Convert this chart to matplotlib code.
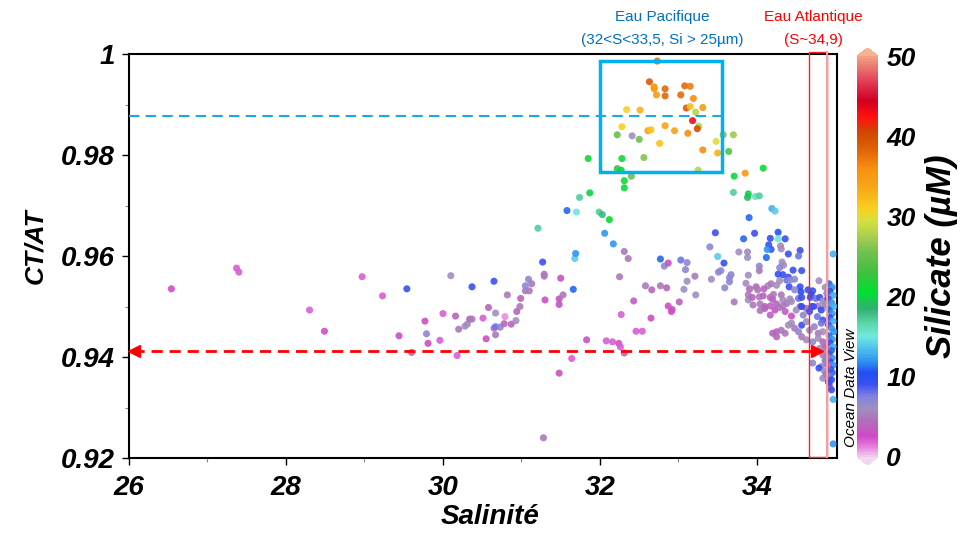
"""
plot.py
CT/AT ratio versus salinity, coloured by silicate (Ocean Data View style).
"""

import matplotlib
matplotlib.use("Agg")
import matplotlib.pyplot as plt
from matplotlib.colors import LinearSegmentedColormap, Normalize
from matplotlib.patches import Rectangle

# ---- data (salinity, CT/AT, silicate in uM) ----
# sparse low-salinity branch
sal_low = [26.54, 27.37, 27.40, 28.30, 28.49, 28.97, 29.23, 29.54, 29.44, 29.60,
           29.77, 29.79, 29.81, 29.96, 30.00, 30.10, 30.16, 30.18, 30.20, 30.28,
           30.31, 30.34, 30.37, 30.37, 30.51, 30.55, 30.58, 30.65, 30.65, 30.67,
           30.73, 30.67, 30.67, 30.78, 30.79, 30.82, 30.87, 30.93, 30.94, 30.98,
           30.99, 31.05, 31.05, 31.09, 31.10, 31.13, 31.21, 31.27, 31.29, 31.29,
           31.30, 31.28, 31.48, 31.48, 31.48, 31.50, 31.53, 31.58, 31.64, 31.66,
           31.68, 31.69, 31.70, 31.74, 31.83, 31.87, 31.99]
ratio_low = [0.9535, 0.9576, 0.9568, 0.9493, 0.9451, 0.9559, 0.9521, 0.9535, 0.9442, 0.9409,
             0.9471, 0.9446, 0.9427, 0.9433, 0.9486, 0.9561, 0.9481, 0.9403, 0.9455, 0.9461,
             0.9465, 0.9475, 0.9475, 0.9539, 0.9477, 0.9436, 0.9498, 0.9550, 0.9457, 0.9460,
             0.9459, 0.9487, 0.9444, 0.9466, 0.9480, 0.9523, 0.9465, 0.9472, 0.9490, 0.9500,
             0.9516, 0.9531, 0.9541, 0.9554, 0.9531, 0.9545, 0.9655, 0.9588, 0.9564, 0.9560,
             0.9513, 0.9240, 0.9368, 0.9515, 0.9504, 0.9556, 0.9523, 0.9690, 0.9397, 0.9534,
             0.9595, 0.9605, 0.9687, 0.9716, 0.9434, 0.9725, 0.9687]
si_low = [2.5, 2, 2, 2, 2.5, 2, 2, 9, 3, 4,
          3, 7, 3, 2, 2, 6, 4, 2, 5, 6,
          6, 4, 5, 9, 2, 3, 4, 9, 5, 8,
          7, 6, 5, 4, 1, 5, 4, 6, 4, 5,
          4, 5, 7, 7, 5, 5, 17, 9, 5, 5,
          3, 5, 3, 3, 3, 3, 5, 11, 2, 11,
          14, 12, 15, 17, 3, 20, 17]

# Pacific water peak and its flanks
sal_pac = [32.73, 32.63, 32.69, 32.69, 32.72, 32.83, 32.83, 33.08, 33.15, 33.03,
           33.19, 33.10, 33.15, 33.31, 33.22, 32.34, 32.51, 32.28, 33.18, 33.26,
           33.24, 32.83, 32.61, 32.65, 32.95, 33.12, 32.22, 32.41, 32.50, 33.57,
           33.70, 33.48, 32.76, 33.31, 33.50, 33.64, 31.85, 32.28, 32.56, 32.22,
           32.27, 33.25, 32.31, 32.40, 33.71, 32.31, 32.03, 32.12, 33.70, 32.06,
           32.17, 32.31, 33.47, 33.40, 33.77, 33.85, 34.08]
ratio_pac = [0.9986, 0.9945, 0.9935, 0.9931, 0.9919, 0.9931, 0.9917, 0.9937, 0.9936, 0.9919,
             0.9912, 0.9893, 0.9896, 0.9894, 0.9885, 0.9890, 0.9889, 0.9856, 0.9868, 0.9857,
             0.9852, 0.9858, 0.9848, 0.9850, 0.9848, 0.9843, 0.9840, 0.9838, 0.9831, 0.9840,
             0.9840, 0.9827, 0.9823, 0.9810, 0.9804, 0.9807, 0.9793, 0.9793, 0.9795, 0.9773,
             0.9770, 0.9770, 0.9749, 0.9758, 0.9758, 0.9735, 0.9682, 0.9672, 0.9726, 0.9645,
             0.9624, 0.9609, 0.9646, 0.9618, 0.9608, 0.9764, 0.9774]
si_pac = [38, 39, 35, 35, 35, 38, 38, 38, 37, 38,
          36, 39, 32, 35, 28, 31, 33, 31, 43, 28,
          40, 34, 34, 32, 34, 36, 25, 6, 25, 26,
          27, 30, 32, 36, 33, 24, 21, 21, 26, 23,
          21, 28, 21, 25, 21, 21, 18, 21, 17, 12,
          12, 5, 9, 7, 6, 35, 21]

# low-silicate branch between S=32 and S=34
sal_mid = [32.36, 32.25, 32.43, 32.27, 32.46, 32.54, 32.65, 32.08, 32.16, 32.24,
           32.26, 32.31, 32.58, 32.66, 32.77, 32.85, 32.77, 32.82, 32.87, 33.03,
           33.11, 33.09, 33.11, 33.07, 33.21, 33.22, 33.01, 32.87, 32.92, 32.91,
           33.50, 33.58, 33.42, 33.51, 33.54, 33.65, 33.67, 33.65, 33.59, 33.71,
           33.83, 33.88, 33.89, 33.86, 33.90, 33.89, 33.90]
ratio_mid = [0.9595, 0.9559, 0.9511, 0.9484, 0.9451, 0.9451, 0.9477, 0.9432, 0.9430, 0.9427,
             0.9420, 0.9408, 0.9541, 0.9533, 0.9541, 0.9537, 0.9594, 0.9580, 0.9586, 0.9592,
             0.9587, 0.9573, 0.9550, 0.9534, 0.9560, 0.9523, 0.9509, 0.9501, 0.9494, 0.9490,
             0.9599, 0.9586, 0.9554, 0.9568, 0.9571, 0.9557, 0.9563, 0.9549, 0.9537, 0.9509,
             0.9634, 0.9597, 0.9562, 0.9546, 0.9534, 0.9513, 0.9676]
si_mid = [5, 5, 4, 2, 2, 2, 3, 2, 2, 3,
          2, 4, 5, 4, 5, 4, 11, 7, 3, 8,
          7, 7, 6, 6, 5, 6, 4, 3, 3, 3,
          14, 9, 6, 7, 7, 7, 7, 7, 7, 5,
          11, 6, 6, 6, 1, 6, 11]

# dense cluster towards Atlantic water (S > 33.9)
sal_atl = [33.89, 33.88, 33.98, 34.03, 34.19, 34.23, 33.97, 34.27, 34.27, 34.17,
           34.36, 34.15, 34.18, 34.13, 34.30, 34.31, 33.88, 34.12, 34.40, 34.55,
           34.53, 34.97, 34.32, 34.34, 34.29, 34.03, 34.03, 34.27, 34.33, 34.40,
           34.38, 34.46, 34.57, 34.48, 34.14, 34.18, 34.25, 34.29, 34.41, 34.42,
           34.55, 34.56, 34.48, 34.65, 34.71, 34.69, 34.79, 34.87, 33.91, 33.99,
           34.01, 34.09, 33.89, 33.94, 34.03, 34.08, 34.17, 34.21, 34.20, 34.31,
           34.33, 34.42, 34.53, 34.57, 34.68, 34.75, 34.80, 34.84, 34.89, 34.90,
           33.95, 34.04, 34.10, 34.17, 34.25, 34.33, 34.38, 34.44, 34.55, 34.63,
           34.70, 34.78, 34.87, 34.92,
           34.04, 34.10, 34.17, 34.23, 34.29, 34.36, 34.44, 34.50, 34.57, 34.59,
           34.67, 34.72, 34.77, 34.82, 34.87, 34.84,
           34.20, 34.25, 34.31, 34.36, 34.40, 34.44, 34.48, 34.53, 34.57, 34.63,
           34.67, 34.73, 34.78, 34.82, 34.84,
           34.25, 34.57, 34.63, 34.71, 34.78, 34.84,
           34.80, 34.84, 34.87, 34.71, 34.82, 34.79, 34.89, 34.84, 34.91, 34.93,
           34.95, 34.97, 34.97,
           34.92, 34.96, 34.93, 34.97, 34.91, 34.95, 34.98, 34.92, 34.96, 34.93,
           34.97, 34.91, 34.95, 34.98, 34.92, 34.96, 34.93, 34.97, 34.95, 34.92,
           34.96, 34.93, 34.97, 34.94, 34.96, 34.93, 34.95, 34.92,
           34.86, 34.88, 34.85, 34.89, 34.87, 34.90, 34.86, 34.88]
ratio_atl = [0.9723, 0.9716, 0.9718, 0.9719, 0.9694, 0.9689, 0.9645, 0.9647, 0.9634, 0.9635,
             0.9634, 0.9622, 0.9613, 0.9613, 0.9620, 0.9614, 0.9608, 0.9597, 0.9604, 0.9611,
             0.9600, 0.9604, 0.9588, 0.9582, 0.9577, 0.9580, 0.9571, 0.9564, 0.9563, 0.9558,
             0.9552, 0.9572, 0.9571, 0.9554, 0.9541, 0.9545, 0.9542, 0.9551, 0.9539, 0.9552,
             0.9539, 0.9529, 0.9533, 0.9533, 0.9531, 0.9523, 0.9551, 0.9538, 0.9535, 0.9539,
             0.9533, 0.9535, 0.9523, 0.9518, 0.9519, 0.9521, 0.9518, 0.9524, 0.9514, 0.9523,
             0.9513, 0.9515, 0.9516, 0.9518, 0.9518, 0.9516, 0.9518, 0.9511, 0.9526, 0.9516,
             0.9503, 0.9505, 0.9500, 0.9501, 0.9505, 0.9501, 0.9506, 0.9510, 0.9500, 0.9496,
             0.9500, 0.9501, 0.9503, 0.9496,
             0.9492, 0.9496, 0.9483, 0.9493, 0.9498, 0.9490, 0.9481, 0.9493, 0.9500, 0.9483,
             0.9490, 0.9500, 0.9480, 0.9493, 0.9506, 0.9473,
             0.9447, 0.9450, 0.9453, 0.9447, 0.9463, 0.9467, 0.9457, 0.9450, 0.9463, 0.9470,
             0.9453, 0.9460, 0.9447, 0.9467, 0.9450,
             0.9440, 0.9440, 0.9434, 0.9430, 0.9437, 0.9430,
             0.9417, 0.9404, 0.9394, 0.9388, 0.9381, 0.9378, 0.9368, 0.9358, 0.9351, 0.9341,
             0.9335, 0.9316, 0.9228,
             0.9545, 0.9538, 0.9530, 0.9522, 0.9515, 0.9508, 0.9500, 0.9493, 0.9486, 0.9478,
             0.9471, 0.9464, 0.9457, 0.9450, 0.9442, 0.9435, 0.9428, 0.9420, 0.9413, 0.9406,
             0.9398, 0.9391, 0.9384, 0.9376, 0.9369, 0.9362, 0.9355, 0.9348,
             0.9425, 0.9418, 0.9410, 0.9400, 0.9392, 0.9385, 0.9372, 0.9365]
si_atl = [20, 19, 16, 17, 13, 14, 9, 10, 15, 9,
          9, 9, 9, 12, 6, 6, 6, 11, 9, 9,
          8, 13, 6, 6, 7, 7, 5, 9, 9, 9,
          8, 9, 9, 7, 6, 5, 6, 6, 9, 7,
          9, 10, 7, 9, 9, 10, 6, 6, 5, 4,
          5, 4, 5, 4, 5, 4, 4, 5, 4, 5,
          6, 6, 8, 9, 9, 8, 9, 6, 5, 8,
          5, 5, 4, 4, 4, 5, 5, 6, 3, 4,
          9, 5, 7, 12,
          5, 4, 4, 3, 5, 4, 3, 6, 10, 7,
          9, 9, 8, 10, 6, 9,
          4, 4, 5, 5, 6, 6, 5, 7, 9, 6,
          6, 7, 5, 8, 6,
          4, 5, 6, 7, 6, 4,
          6, 5, 6, 7, 7, 9, 8, 6, 10, 6,
          9, 13, 12,
          11, 12, 10, 13, 9, 12, 13, 11, 12, 10,
          13, 9, 12, 12, 11, 12, 10, 13, 11, 9,
          12, 10, 12, 9, 11, 8, 10, 9,
          5, 4, 6, 5, 7, 4, 6, 5]

salinity = sal_low + sal_pac + sal_mid + sal_atl
ct_at = ratio_low + ratio_pac + ratio_mid + ratio_atl
silicate = si_low + si_pac + si_mid + si_atl

x_ticks = [26, 28, 30, 32, 34]
y_ticks = [0.92, 0.94, 0.96, 0.98, 1.0]
y_tick_labels = ["0.92", "0.94", "0.96", "0.98", "1"]
cb_ticks = [0, 10, 20, 30, 40, 50]

pacific_level = 0.9877
atlantic_level = 0.9412

# ODV-like rainbow for silicate 0..50
odv_colors = [
    (0.00, "#f0c8ec"), (0.03, "#e070d8"), (0.05, "#d048c8"), (0.09, "#b070b8"),
    (0.12, "#a090c0"), (0.15, "#8080e0"), (0.18, "#3a50f0"), (0.21, "#2050f0"),
    (0.24, "#3098f0"), (0.27, "#50c0f0"), (0.30, "#70e8e0"), (0.33, "#60d8b0"),
    (0.37, "#30b070"), (0.41, "#00e030"), (0.46, "#40c040"), (0.51, "#70c050"),
    (0.55, "#a8d050"), (0.59, "#d8e040"), (0.62, "#f8d020"), (0.67, "#f8a818"),
    (0.72, "#f89010"), (0.77, "#e06008"), (0.81, "#d04800"), (0.85, "#ff1010"),
    (0.89, "#d00020"), (0.93, "#e03050"), (0.97, "#e87070"), (1.00, "#f4a080"),
]
cmap = LinearSegmentedColormap.from_list("odv", odv_colors, N=256)
cmap.set_under("#f0d4ee")
cmap.set_over("#f4aa88")

bold_it = dict(family="Liberation Sans", weight="bold", style="italic")

fig = plt.figure(figsize=(9.6, 5.34), dpi=100)
ax = fig.add_axes([129 / 960, 1 - 458 / 534, 708 / 960, 404 / 534])

norm = Normalize(vmin=0, vmax=50)
sc = ax.scatter(salinity, ct_at, c=silicate, cmap=cmap, norm=norm,
                s=26, edgecolors="none", alpha=0.9, zorder=3)

ax.set_xlim(26, 35.02)
ax.set_ylim(0.92, 1.0)
ax.set_xticks(x_ticks)
ax.set_xticks([27, 29, 31, 33], minor=True)
ax.set_yticks(y_ticks)
ax.set_yticklabels(y_tick_labels)
ax.set_yticks([0.93, 0.95, 0.97, 0.99], minor=True)
ax.tick_params(which="major", direction="out", length=5, width=1)
ax.tick_params(axis="x", which="major", pad=7)
ax.tick_params(axis="y", which="major", pad=5)
ax.tick_params(which="minor", direction="out", length=3, width=0.8, color="#888888")
for lab in ax.get_xticklabels() + ax.get_yticklabels():
    lab.set(fontsize=20, **bold_it)
for sp in ax.spines.values():
    sp.set_linewidth(1.5)

ax.set_xlabel("Salinité", fontsize=20, **bold_it)
ax.xaxis.set_label_coords(0.51, -0.115)
ax.set_ylabel("CT/AT", fontsize=19, **bold_it)
ax.yaxis.set_label_coords(-0.115, 0.525)

# Pacific water box and level
ax.plot([26, 33.55], [pacific_level, pacific_level], color="#1aa8e6",
        linestyle=(0, (5, 3)), linewidth=1.5, zorder=4)
ax.add_patch(Rectangle((32.0, 0.9766), 1.55, 0.0221, fill=False,
                       edgecolor="#00b0f0", linewidth=2.5, zorder=5))

# Atlantic water strip and arrow
ax.add_patch(Rectangle((34.66, 0.9202), 0.23, 0.0802, fill=False,
                       edgecolor="#ff2020", linewidth=1, zorder=5, clip_on=False))
ax.plot([34.89, 34.89], [0.9202, 1.0004], color="#f4a0a0", linewidth=1.5,
        zorder=5, clip_on=False)
ax.plot([26.05, 34.78], [atlantic_level, atlantic_level], color="#ff0000",
        linestyle=(0, (4, 2.5)), linewidth=2, zorder=6)
ax.plot([26.07], [atlantic_level], marker="<", color="#ff0000", markersize=8,
        zorder=6, clip_on=False)
ax.plot([34.76], [atlantic_level], marker=">", color="#ff0000", markersize=8,
        zorder=6)

# annotations above the plot
fig.text(662 / 960, 1 - 17 / 534, "Eau Pacifique", color="#0070c0",
         fontsize=11, ha="center", va="center", family="Liberation Sans")
fig.text(662 / 960, 1 - 40 / 534, "(32<S<33,5, Si > 25µm)", color="#0070c0",
         fontsize=11, ha="center", va="center", family="Liberation Sans")
fig.text(813 / 960, 1 - 17 / 534, "Eau Atlantique", color="#ff0000",
         fontsize=11, ha="center", va="center", family="Liberation Sans")
fig.text(813 / 960, 1 - 40 / 534, "(S~34,9)", color="#ff0000",
         fontsize=11, ha="center", va="center", family="Liberation Sans")

# colorbar
cax = fig.add_axes([857 / 960, 1 - 465 / 534, 21 / 960, 417 / 534])
cb = fig.colorbar(sc, cax=cax, extend="both", extendfrac=0.02)
cb.solids.set_alpha(1)
cb.outline.set_visible(False)
cb.set_ticks(cb_ticks)
cb.ax.tick_params(length=0, pad=6)
for lab in cb.ax.get_yticklabels():
    lab.set(fontsize=19, **bold_it)

fig.text(941 / 960, 1 - 256 / 534, "Silicate (µM)", rotation=90, fontsize=25,
         ha="center", va="center", **bold_it)
fig.text(851 / 960, 1 - 388 / 534, "Ocean Data View", rotation=90, fontsize=11,
         ha="center", va="center", style="italic", family="Liberation Sans")

fig.savefig("out.png", dpi=100)
